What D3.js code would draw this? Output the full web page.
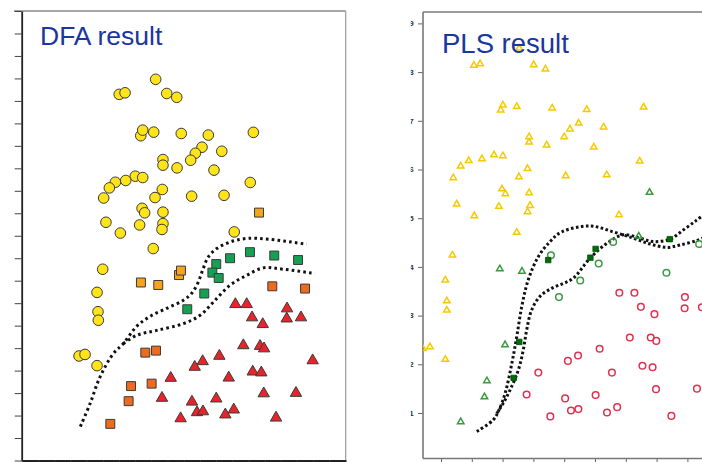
<!DOCTYPE html>
<html><head><meta charset="utf-8">
<script src="https://cdn.jsdelivr.net/npm/d3@7"></script>
<style>
html,body{margin:0;padding:0;background:#fff;}
svg{display:block;}
</style></head>
<body>
<svg id="chart" width="702" height="462"></svg>
<script>
// ---------------- DFA panel data (tick units, 0..20 on both axes) ----------------
const dfaTicks = d3.range(0, 21);
const dfaYellowCircles = [
 [8.27,16.96],[6.02,16.29],[6.38,16.36],[8.95,16.33],[9.57,16.16],
 [7.35,14.45],[7.47,14.70],[8.15,14.61],[9.85,14.55],[11.52,14.48],[14.30,14.60],
 [11.13,13.94],[10.72,13.67],[10.43,13.36],[12.35,13.76],[8.72,13.39],[8.72,13.14],
 [9.59,13.02],[11.87,12.92],[7.01,12.65],[7.47,12.59],[6.42,12.46],[5.78,12.38],
 [5.41,12.13],[5.06,11.68],[8.68,12.06],[8.23,11.70],[10.49,11.76],[12.49,11.80],
 [14.11,12.37],[7.43,11.22],[7.59,11.02],[8.72,11.05],[5.20,10.60],[6.09,10.12],
 [7.28,10.48],[8.72,10.54],[8.66,10.28],[13.12,10.17],[8.12,9.43],[5.00,8.51],
 [4.65,7.48],[4.71,6.62],[4.73,6.24],[3.54,4.65],[3.91,4.72],[4.65,4.22]
];
const dfaLightOrangeSquares = [
 [14.65,11.03],[7.36,7.92],[8.43,7.81],[9.71,8.25],[9.83,8.45]
];
const dfaDarkOrangeSquares = [
 [15.47,7.75],[17.49,7.65],[7.63,4.80],[8.29,4.89],[6.75,3.31],[8.02,3.42],[6.60,2.64],[5.47,1.63]
];
const dfaGreenSquares = [
 [12.86,9.00],[14.09,9.27],[15.59,9.12],[17.06,8.92],[12.01,8.74],[11.77,8.36],[12.16,8.12],[11.27,7.43],[10.22,6.73]
];
const dfaRedTriangles = [
 [13.19,6.95],[13.89,6.95],[14.22,6.36],[14.88,6.06],[16.38,6.76],[16.36,6.31],[17.24,6.36],
 [13.68,5.12],[14.71,5.09],[14.96,4.98],[12.20,4.65],[11.17,4.41],[10.68,4.16],[9.20,3.67],
 [12.78,3.68],[14.26,3.95],[14.79,3.91],[17.96,4.45],[8.66,2.78],[10.51,2.61],[12.01,2.75],
 [14.94,2.98],[16.93,3.00],[9.81,1.87],[10.82,2.14],[11.19,2.18],[12.57,2.04],[13.09,2.26],[15.70,1.90]
];
const dfaBoundaryUpper = [
 [3.62,1.51],[4.22,2.53],[4.83,3.71],[5.65,4.75],[6.27,5.20],[7.10,5.97],[7.92,6.41],[8.95,6.77],
 [9.98,7.13],[10.49,7.44],[10.90,7.94],[11.21,8.55],[11.52,9.06],[12.04,9.43],[12.86,9.72],
 [13.89,9.88],[15.33,9.84],[17.59,9.62]
];
const dfaBoundaryLower = [
 [6.27,5.20],[7.10,5.57],[8.33,5.79],[9.98,6.09],[11.01,6.46],[11.83,7.05],[12.86,7.80],
 [13.89,8.24],[14.91,8.57],[16.15,8.51],[18.10,8.32]
];

// ---------------- PLS panel data ----------------
const plsYTicks = [1,2,3,4,5,6,7,8,9];
const plsXTicks = [1,2,3,4,5,6,7,8,9];
const plsYellowTriangles = [
 [3.54,8.49],[2.07,8.14],[2.27,8.17],[4.01,8.15],[4.39,8.06],[3.01,7.32],[2.94,7.22],[3.46,7.29],
 [4.61,7.26],[5.73,7.23],[7.58,7.28],[5.47,6.95],[5.19,6.83],[5.00,6.67],[6.28,6.87],[3.86,6.67],
 [3.86,6.56],[4.43,6.50],[5.96,6.46],[2.72,6.30],[3.01,6.28],[2.33,6.22],[1.90,6.18],[1.64,6.07],
 [1.40,5.83],[3.81,6.02],[3.53,5.85],[5.05,5.87],[6.38,5.89],[7.45,6.17],[2.98,5.60],[3.09,5.50],
 [3.86,5.52],[1.51,5.29],[2.88,5.24],[3.89,5.26],[3.81,5.13],[2.08,5.05],[6.78,5.07],[3.46,4.71],
 [1.37,4.24],[1.14,3.73],[1.19,3.30],[1.19,3.11],[0.64,2.36],[0.41,2.32],[1.14,2.10]
];
const plsGreenTriangles = [
 [7.77,5.53],[7.42,4.63],[2.91,3.96],[3.63,3.91],[3.08,2.40],[2.49,1.66],[2.41,1.33],[1.64,0.82]
];
const plsGreenCircles = [
 [4.57,4.24],[4.83,3.38],[5.52,3.72],[6.12,4.07],[6.59,4.51],[8.32,3.88],[9.38,4.47]
];
const plsDarkGreenSquares = [
 [4.48,4.14],[5.85,4.19],[6.02,4.37],[8.43,4.57],[3.54,2.46],[3.36,1.72]
];
const plsRedCircles = [
 [6.79,3.47],[7.28,3.47],[7.49,3.18],[7.93,3.03],[8.92,3.38],[8.91,3.15],[9.47,3.17],
 [7.13,2.55],[7.81,2.55],[7.99,2.48],[6.15,2.32],[5.12,2.07],[5.45,2.18],[4.16,1.83],
 [6.55,1.83],[7.54,1.97],[7.87,1.94],[7.98,1.49],[9.31,1.50],[3.78,1.38],[5.03,1.30],
 [6.02,1.37],[5.22,1.05],[5.46,1.08],[6.39,1.01],[6.72,1.12],[4.55,0.93],[8.48,0.94]
];
const plsBoundaryA = [
 [2.16,0.62],[2.70,0.86],[2.86,1.03],[3.08,1.40],[3.30,2.02],[3.46,2.57],[3.62,3.18],[3.83,3.73],
 [4.16,4.21],[4.54,4.52],[4.92,4.72],[5.84,4.84],[6.59,4.72],[7.24,4.59],[7.79,4.47],[8.33,4.40],
 [8.76,4.45],[9.30,4.54],[9.57,4.61]
];
const plsBoundaryB = [
 [2.81,0.99],[3.02,1.20],[3.24,1.47],[3.51,1.88],[3.67,2.29],[3.78,2.70],[3.94,3.11],[4.21,3.39],
 [4.59,3.56],[4.97,3.66],[5.30,3.77],[5.84,4.18],[6.38,4.48],[6.92,4.66],[7.46,4.59],[7.89,4.52],
 [8.44,4.57],[8.87,4.76],[9.28,4.95],[9.57,5.09]
];

// ---------------- drawing ----------------
(function () {
const svg = d3.select("#chart");
const titleColor = "#1a36a0";

// ===== DFA panel =====
const xL = d3.scaleLinear().domain([0, 20]).range([21.7, 345.7]);
const yL = d3.scaleLinear().domain([0, 20]).range([460.5, 11]);
const gL = svg.append("g");

gL.append("line").attr("x1", 14).attr("x2", xL(20)).attr("y1", yL(20)).attr("y2", yL(20))
  .attr("stroke", "#8a8a8a").attr("stroke-width", 1.5);
gL.append("line").attr("x1", xL(20)).attr("x2", xL(20)).attr("y1", yL(20)).attr("y2", yL(0))
  .attr("stroke", "#9a9a9a").attr("stroke-width", 1.2);

const axL = gL.append("g").attr("transform", `translate(${xL(0)},0)`)
  .call(d3.axisLeft(yL).tickValues(dfaTicks).tickFormat("").tickSize(7).tickSizeOuter(0));
const axB = gL.append("g").attr("transform", `translate(0,${yL(0)})`)
  .call(d3.axisBottom(xL).tickValues(dfaTicks).tickFormat("").tickSize(5).tickSizeOuter(0));
[axL, axB].forEach(a => {
  a.select(".domain").attr("stroke", "#222").attr("stroke-width", 1.8);
  a.selectAll(".tick line").attr("stroke", "#444").attr("stroke-width", 1);
});

gL.append("text").attr("x", 40).attr("y", 45).text("DFA result")
  .attr("font-family", "'Liberation Sans', Arial, sans-serif").attr("font-size", 26.5)
  .attr("fill", titleColor);

const lineL = d3.line().x(d => xL(d[0])).y(d => yL(d[1])).curve(d3.curveCatmullRom.alpha(0.5));
[dfaBoundaryUpper, dfaBoundaryLower].forEach(pts => {
  gL.append("path").attr("d", lineL(pts)).attr("fill", "none").attr("stroke", "#111")
    .attr("stroke-width", 3).attr("stroke-dasharray", "2.6,3.2");
});

const markStroke = "#3a3a3a";
gL.selectAll(".yc").data(dfaYellowCircles).join("circle")
  .attr("cx", d => xL(d[0])).attr("cy", d => yL(d[1])).attr("r", 5.3)
  .attr("fill", "#ffe41a").attr("stroke", markStroke).attr("stroke-width", 1);

function squares(g, data, fill, size, stroke, sw, xs, ys) {
  g.append("g").selectAll("path").data(data).join("path")
    .attr("transform", d => `translate(${xs(d[0])},${ys(d[1])})`)
    .attr("d", d3.symbol(d3.symbolSquare, size)())
    .attr("fill", fill).attr("stroke", stroke).attr("stroke-width", sw);
}
squares(gL, dfaLightOrangeSquares, "#f7a41c", 80, markStroke, 1, xL, yL);
squares(gL, dfaDarkOrangeSquares, "#ee6a1e", 80, markStroke, 1, xL, yL);
squares(gL, dfaGreenSquares, "#14a152", 80, markStroke, 1, xL, yL);

gL.append("g").selectAll("path").data(dfaRedTriangles).join("path")
  .attr("transform", d => `translate(${xL(d[0])},${yL(d[1])})`)
  .attr("d", d3.symbol(d3.symbolTriangle, 56)())
  .attr("fill", "#e8242b").attr("stroke", markStroke).attr("stroke-width", 1);

// ===== PLS panel =====
const xR = d3.scaleLinear().domain([1, 9]).range([441, 441 + 8 * 30.8]);
const yR = d3.scaleLinear().domain([1, 9]).range([413, 413 - 8 * 48.7]);
const pLeft = 423, pTop = 12, pBottom = 458.5;
const gR = svg.append("g");

const defs = svg.append("defs");
defs.append("clipPath").attr("id", "plotR").append("rect")
  .attr("x", pLeft).attr("y", pTop).attr("width", 702 - pLeft).attr("height", pBottom - pTop);
defs.append("clipPath").attr("id", "labR").append("rect")
  .attr("x", 410.8).attr("y", 0).attr("width", 10).attr("height", 462);

gR.append("line").attr("x1", pLeft).attr("x2", 702).attr("y1", pTop).attr("y2", pTop)
  .attr("stroke", "#7a7a7a").attr("stroke-width", 1.5);

const yAxR = gR.append("g").attr("transform", `translate(${pLeft},0)`)
  .call(d3.axisLeft(yR).tickValues(plsYTicks).tickFormat("").tickSize(5).tickSizeOuter(0));
yAxR.select(".domain").remove();
gR.append("line").attr("x1", pLeft).attr("x2", pLeft).attr("y1", pTop).attr("y2", pBottom)
  .attr("stroke", "#777").attr("stroke-width", 1.6);
const xAxR = gR.append("g").attr("transform", `translate(0,${pBottom})`)
  .call(d3.axisBottom(xR).tickValues(plsXTicks).tickFormat("").tickSize(5).tickSizeOuter(0));
xAxR.select(".domain").remove();
gR.append("line").attr("x1", pLeft).attr("x2", 702).attr("y1", pBottom).attr("y2", pBottom)
  .attr("stroke", "#777").attr("stroke-width", 1.6);
[yAxR, xAxR].forEach(a => a.selectAll(".tick line").attr("stroke", "#666").attr("stroke-width", 1));

gR.append("g").attr("clip-path", "url(#labR)").selectAll("text").data(plsYTicks).join("text")
  .attr("x", 413.8).attr("y", d => yR(d) + 2.8).attr("text-anchor", "end")
  .attr("font-family", "'Liberation Sans', Arial, sans-serif").attr("font-size", 8)
  .attr("font-weight", "bold").attr("fill", "#333").text(d => d);

const plot = gR.append("g").attr("clip-path", "url(#plotR)");

plot.append("g").selectAll("path").data(plsYellowTriangles).join("path")
  .attr("transform", d => `translate(${xR(d[0])},${yR(d[1])})`)
  .attr("d", d3.symbol(d3.symbolTriangle, 18)())
  .attr("fill", "none").attr("stroke", "#f6c900").attr("stroke-width", 1.5);

plot.append("text").attr("x", 442).attr("y", 52.5).text("PLS result")
  .attr("font-family", "'Liberation Sans', Arial, sans-serif").attr("font-size", 27.5)
  .attr("fill", titleColor);

const lineR = d3.line().x(d => xR(d[0])).y(d => yR(d[1])).curve(d3.curveCatmullRom.alpha(0.5));
[plsBoundaryA, plsBoundaryB].forEach(pts => {
  plot.append("path").attr("d", lineR(pts)).attr("fill", "none").attr("stroke", "#111")
    .attr("stroke-width", 3).attr("stroke-dasharray", "2.6,2.4");
});

plot.append("g").selectAll("path").data(plsGreenTriangles).join("path")
  .attr("transform", d => `translate(${xR(d[0])},${yR(d[1])})`)
  .attr("d", d3.symbol(d3.symbolTriangle, 18)())
  .attr("fill", "none").attr("stroke", "#3a9a3e").attr("stroke-width", 1.5);

plot.append("g").selectAll("circle").data(plsGreenCircles).join("circle")
  .attr("cx", d => xR(d[0])).attr("cy", d => yR(d[1])).attr("r", 3.3)
  .attr("fill", "none").attr("stroke", "#3c9a44").attr("stroke-width", 1.5);

plot.append("g").selectAll("circle").data(plsRedCircles).join("circle")
  .attr("cx", d => xR(d[0])).attr("cy", d => yR(d[1])).attr("r", 3.3)
  .attr("fill", "none").attr("stroke", "#e3304f").attr("stroke-width", 1.5);

squares(plot, plsDarkGreenSquares, "#006b0a", 30, "#004d05", 0.8, xR, yR);
})();
</script>
</body></html>
